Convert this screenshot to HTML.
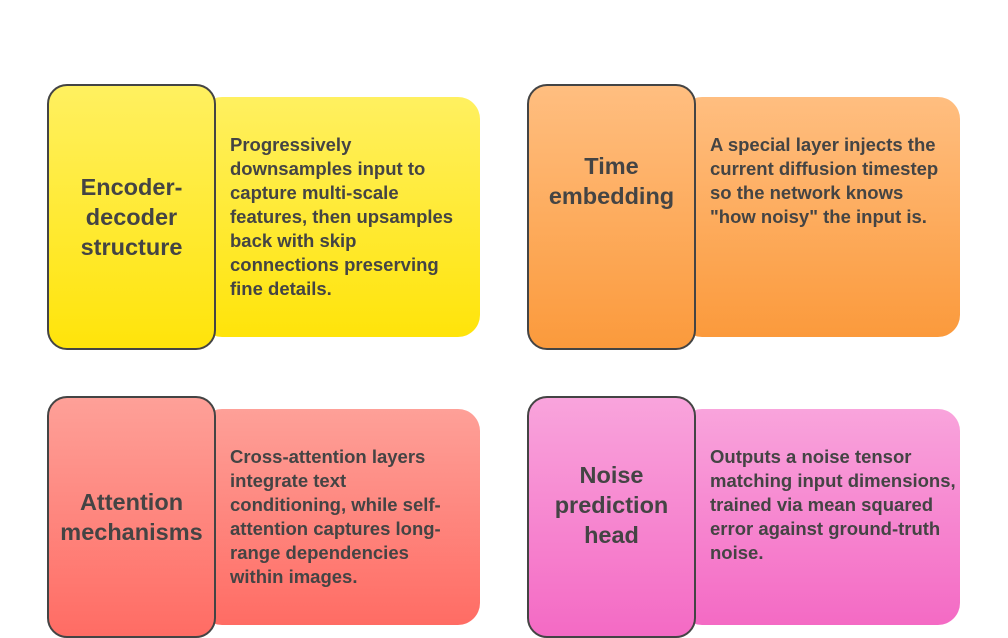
<!DOCTYPE html>
<html><head><style>
body{margin:0;width:1008px;height:638px;background:#fff;position:relative;overflow:hidden;font-family:"Liberation Sans",Arial,sans-serif;color:#444;font-weight:bold}
.p{position:absolute;border-radius:22px}
.b{position:absolute;width:165px;border:2px solid #444;border-radius:20px;box-sizing:content-box}
.t{position:absolute;width:169px;text-align:center;font-size:23.5px;line-height:30px;white-space:nowrap}
.d{position:absolute;font-size:18.5px;line-height:24px;white-space:nowrap}
</style></head><body>
<div class="p" style="left:200px;top:97px;width:280px;height:240px;background:linear-gradient(#fff060,#ffe40a)"></div>
<div class="b" style="left:47px;top:84px;height:262px;background:linear-gradient(#fff060,#ffe40a)"></div>
<div class="t" style="left:47px;top:172px">Encoder-<br>decoder<br>structure</div>
<div class="d" style="left:230px;top:133px">Progressively<br>downsamples input to<br>capture multi-scale<br>features, then upsamples<br>back with skip<br>connections preserving<br>fine details.</div>

<div class="p" style="left:680px;top:97px;width:280px;height:240px;background:linear-gradient(#ffbe80,#fb9a3c)"></div>
<div class="b" style="left:527px;top:84px;height:262px;background:linear-gradient(#ffbe80,#fb9a3c)"></div>
<div class="t" style="left:527px;top:151px">Time<br>embedding</div>
<div class="d" style="left:710px;top:133px">A special layer injects the<br>current diffusion timestep<br>so the network knows<br>"how noisy" the input is.</div>

<div class="p" style="left:200px;top:409px;width:280px;height:216px;background:linear-gradient(#fea098,#ff6c64)"></div>
<div class="b" style="left:47px;top:396px;height:238px;background:linear-gradient(#fea098,#ff6c64)"></div>
<div class="t" style="left:47px;top:487px">Attention<br>mechanisms</div>
<div class="d" style="left:230px;top:445px">Cross-attention layers<br>integrate text<br>conditioning, while self-<br>attention captures long-<br>range dependencies<br>within images.</div>

<div class="p" style="left:680px;top:409px;width:280px;height:216px;background:linear-gradient(#f9a4dc,#f46ac4)"></div>
<div class="b" style="left:527px;top:396px;height:238px;background:linear-gradient(#f9a4dc,#f46ac4)"></div>
<div class="t" style="left:527px;top:460px">Noise<br>prediction<br>head</div>
<div class="d" style="left:710px;top:445px">Outputs a noise tensor<br>matching input dimensions,<br>trained via mean squared<br>error against ground-truth<br>noise.</div>
</body></html>
